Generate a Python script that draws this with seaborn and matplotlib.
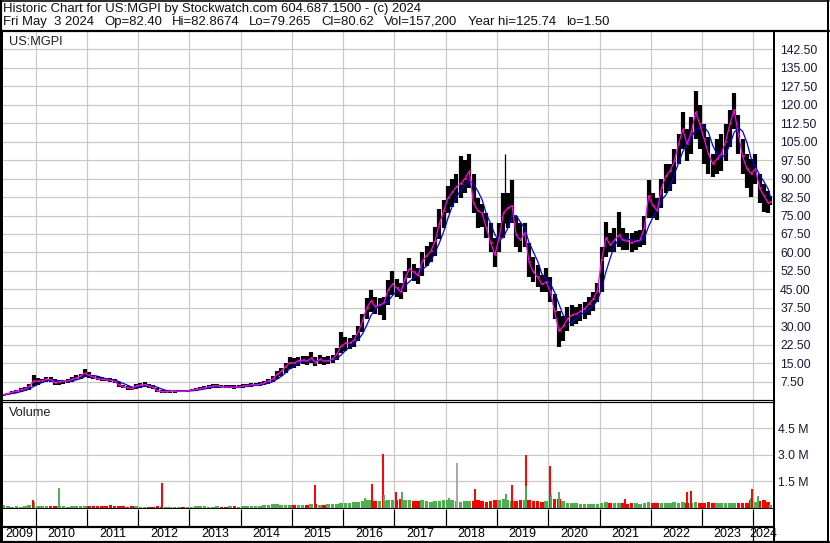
import numpy as np
import pandas as pd
import matplotlib
matplotlib.use("Agg")
import matplotlib.pyplot as plt
from matplotlib.lines import Line2D
import seaborn as sns

# monthly bars, May 2009 .. May 2024 (one row per year)
price_hi = [2.6, 3.0, 3.6, 4.2, 4.8, 5.2, 6.5, 10.2,
            9.0, 8.5, 9.2, 9.4, 8.6, 8.3, 8.3, 8.6, 9.3, 10.0, 10.6, 12.4,
            11.4, 10.3, 9.6, 9.4, 9.0, 8.9, 8.6, 7.4, 6.2, 5.8, 5.4, 6.6,
            7.0, 7.2, 6.6, 6.0, 4.8, 4.0, 3.9, 4.0, 4.1, 4.1, 4.0, 4.2,
            4.6, 4.9, 5.2, 5.6, 6.1, 6.4, 6.6, 6.3, 6.0, 6.1, 6.0, 6.0,
            6.4, 6.6, 7.0, 7.0, 7.2, 7.8, 8.6, 9.8, 11.6, 13.0, 15.2, 17.6,
            17.0, 17.6, 18.0, 17.8, 19.6, 17.4, 18.2, 17.6, 17.8, 18.4, 21.0, 27.6,
            25.8, 25.4, 26.4, 30.0, 34.8, 41.4, 44.6, 42.0, 41.4, 42.0, 48.6, 52.6,
            49.0, 47.4, 52.6, 57.6, 55.4, 53.6, 60.0, 62.6, 64.4, 70.2, 77.6, 81.2,
            87.0, 90.0, 92.0, 99.0, 97.5, 100.0, 92.0, 82.0, 79.6, 76.0, 72.0, 66.0,
            72.0, 84.0, 84.0, 89.4, 75.0, 72.0, 72.0, 64.0, 58.0, 55.0, 51.0, 53.5,
            50.0, 43.0, 36.0, 34.0, 38.0, 38.5, 38.0, 39.0, 40.0, 42.0, 44.0, 47.5,
            62.0, 72.4, 68.0, 70.0, 76.4, 70.0, 68.0, 68.0, 68.5, 69.0, 75.0, 89.4,
            84.0, 82.0, 90.0, 96.0, 96.0, 102.0, 108.0, 116.9, 110.0, 115.0, 125.74, 120.0,
            112.0, 107.0, 100.0, 106.0, 108.0, 112.0, 118.0, 124.9, 116.0, 106.0, 100.0, 98.0,
            100.0, 92.0, 88.0, 85.0, 82.87]
price_lo = [1.5, 1.9, 2.4, 2.9, 3.3, 3.6, 4.0, 5.5,
            6.3, 6.8, 7.3, 7.5, 6.0, 6.2, 6.6, 6.8, 7.4, 8.0, 8.5, 9.4,
            9.0, 8.5, 8.0, 7.8, 7.6, 7.4, 7.0, 5.4, 4.8, 4.2, 3.9, 4.6,
            5.0, 5.2, 5.0, 4.4, 3.2, 2.9, 2.9, 3.0, 3.0, 3.1, 3.1, 3.2,
            3.5, 3.8, 4.0, 4.3, 4.5, 4.8, 4.9, 4.8, 4.7, 4.7, 4.6, 4.8,
            5.0, 5.2, 5.4, 5.5, 5.6, 6.0, 6.6, 7.4, 8.4, 9.6, 11.0, 12.8,
            13.0, 14.0, 14.6, 14.4, 15.0, 13.8, 14.6, 14.4, 14.8, 15.0, 16.2, 19.0,
            19.8, 20.6, 21.6, 24.0, 27.6, 33.0, 35.6, 35.0, 34.4, 32.4, 38.8, 42.6,
            42.0, 41.0, 44.0, 49.4, 48.4, 47.0, 50.6, 54.6, 56.0, 58.6, 65.6, 70.0,
            76.0, 78.6, 80.0, 82.0, 84.0, 86.0, 76.0, 70.0, 70.5, 66.0, 60.0, 54.2,
            60.0, 66.0, 70.0, 72.0, 62.0, 60.0, 62.0, 50.0, 48.0, 46.0, 44.0, 44.0,
            40.0, 33.0, 21.7, 24.0, 28.0, 30.0, 31.0, 32.0, 33.0, 34.5, 36.0, 40.0,
            44.0, 58.0, 60.0, 60.0, 62.0, 60.8, 61.0, 60.0, 61.0, 62.0, 63.0, 74.0,
            74.0, 73.0, 78.0, 84.0, 85.0, 88.0, 96.0, 102.0, 97.0, 100.0, 106.0, 102.0,
            96.0, 92.0, 90.5, 92.0, 93.0, 97.0, 103.0, 110.0, 100.0, 92.0, 86.0, 82.4,
            88.0, 80.0, 76.4, 76.0, 79.27]
price_cl = [2.2, 2.6, 3.2, 3.6, 4.2, 4.5, 5.6, 7.6,
            7.6, 7.8, 8.4, 8.3, 7.0, 7.4, 7.6, 7.7, 8.4, 9.0, 9.8, 10.8,
            10.0, 9.2, 8.6, 8.4, 8.3, 8.0, 7.6, 6.0, 5.4, 5.0, 4.6, 5.6,
            6.0, 6.3, 5.6, 5.2, 3.7, 3.4, 3.4, 3.5, 3.5, 3.6, 3.5, 3.7,
            4.1, 4.3, 4.6, 5.0, 5.4, 5.6, 5.8, 5.4, 5.3, 5.3, 5.2, 5.4,
            5.6, 5.8, 6.2, 6.2, 6.4, 7.0, 7.8, 8.6, 10.4, 11.6, 13.6, 15.2,
            15.0, 16.0, 16.2, 15.8, 17.0, 15.2, 16.6, 15.8, 16.0, 16.6, 18.6, 22.0,
            23.0, 23.2, 24.2, 27.8, 32.0, 37.4, 40.2, 38.0, 38.6, 39.4, 44.6, 47.0,
            45.6, 43.8, 49.6, 53.4, 52.0, 50.6, 56.4, 58.6, 60.4, 64.6, 71.6, 76.8,
            82.0, 84.4, 86.7, 88.0, 90.0, 93.0, 80.0, 77.0, 76.0, 70.0, 64.0, 59.0,
            66.0, 76.0, 78.0, 79.0, 67.0, 65.0, 68.0, 56.0, 52.0, 50.0, 47.0, 48.0,
            44.0, 36.0, 28.0, 30.0, 33.0, 34.5, 35.0, 36.0, 37.0, 39.0, 41.0, 44.5,
            57.0, 66.0, 63.0, 65.0, 67.0, 65.0, 64.5, 64.0, 64.5, 65.0, 70.0, 83.0,
            79.0, 77.0, 86.0, 91.0, 93.0, 97.0, 104.0, 110.0, 104.0, 109.0, 117.0, 112.0,
            106.0, 100.0, 96.0, 98.0, 100.0, 105.0, 112.0, 118.0, 108.0, 99.0, 94.0, 92.0,
            94.0, 86.0, 83.0, 80.0, 80.62]
# typical daily volume each month, millions
volume_m = [0.12, 0.06, 0.05, 0.06, 0.05, 0.07, 0.15, 0.30,
            0.10, 0.07, 0.06, 0.07, 0.08, 0.10, 0.06, 0.05, 0.08, 0.07, 0.06, 0.09,
            0.08, 0.10, 0.07, 0.06, 0.08, 0.12, 0.08, 0.10, 0.06, 0.05, 0.07, 0.06,
            0.05, 0.05, 0.04, 0.05, 0.06, 0.05, 0.04, 0.04, 0.05, 0.04, 0.05, 0.05,
            0.05, 0.06, 0.10, 0.06, 0.05, 0.05, 0.06, 0.05, 0.05, 0.07, 0.06, 0.05,
            0.06, 0.07, 0.06, 0.08, 0.10, 0.12, 0.15, 0.22, 0.18, 0.16, 0.15, 0.15,
            0.14, 0.13, 0.15, 0.16, 0.18, 0.20, 0.17, 0.16, 0.18, 0.22, 0.22, 0.25,
            0.24, 0.26, 0.30, 0.32, 0.36, 0.45, 0.40, 0.38, 0.35, 0.38, 0.40, 0.45,
            0.45, 0.50, 0.42, 0.45, 0.38, 0.35, 0.40, 0.35, 0.32, 0.35, 0.38, 0.40,
            0.42, 0.40, 0.35, 0.32, 0.35, 0.38, 0.35, 0.40, 0.35, 0.32, 0.35, 0.40,
            0.40, 0.48, 0.40, 0.35, 0.35, 0.40, 0.42, 0.40, 0.35, 0.35, 0.30, 0.35,
            0.40, 0.48, 0.50, 0.38, 0.28, 0.26, 0.25, 0.22, 0.22, 0.20, 0.22, 0.22,
            0.25, 0.32, 0.28, 0.25, 0.28, 0.25, 0.22, 0.25, 0.26, 0.22, 0.25, 0.32,
            0.28, 0.25, 0.28, 0.26, 0.28, 0.30, 0.26, 0.32, 0.28, 0.28, 0.30, 0.26,
            0.28, 0.32, 0.28, 0.24, 0.26, 0.28, 0.28, 0.26, 0.24, 0.26, 0.28, 0.40,
            0.32, 0.38, 0.42, 0.32, 0.16]

# single-day spikes
spike_t = [2019.15]
spike_lo = [72.0]
spike_hi = [100.0]
vol_spike_t = [2009.94, 2010.45, 2012.46, 2015.45, 2016.42, 2016.57, 2016.78, 2016.80,
               2017.02, 2017.14, 2018.07, 2018.21, 2018.57, 2019.18, 2019.30, 2019.56,
               2019.56, 2020.03, 2020.05, 2020.20, 2021.50, 2022.71, 2022.78, 2023.95,
               2023.97, 2024.10]
vol_spike_v = [0.40, 1.11, 1.38, 1.29, 0.55, 1.34, 3.06, 0.72,
               0.87, 0.87, 0.56, 2.54, 1.04, 0.75, 1.26, 2.96,
               1.21, 2.38, 0.71, 0.87, 0.49, 0.87, 0.92, 0.52,
               1.04, 0.66]
vol_spike_c = ["r", "g", "r", "r", "g", "r", "r", "g",
               "r", "g", "g", "k", "r", "g", "r", "r",
               "g", "r", "g", "g", "r", "r", "r", "g",
               "r", "g"]

price_ticks = np.arange(7.5, 143, 7.5)
vol_ticks = [1.5, 3.0, 4.5]
years = list(range(2010, 2025))
quote_fields = ["Fri May  3 2024", "Op=82.40", "Hi=82.8674", "Lo=79.265", "Cl=80.62",
                "Vol=157,200", "Year hi=125.74", "lo=1.50"]
quote_x = [3, 104, 172, 249, 321, 384, 468, 566]

sns.set_style("white")
plt.rcParams['font.family'] = ['Liberation Sans', 'DejaVu Sans']

months = pd.date_range("2009-05-01", "2024-05-01", freq="MS")
t = np.array(months.year + (months.month - 0.5) / 12, dtype=float)
t[-1] = 2024.335
df = pd.DataFrame({"t": t, "hi": price_hi, "lo": price_lo, "cl": price_cl, "vol": volume_m})
df["ma_fast"] = df["cl"]
df["ma_slow"] = df["cl"].rolling(4, min_periods=1).mean()
df["up"] = df["cl"].diff().fillna(0) >= 0

W, H = 830, 543
XMIN, XMAX = 2009.343, 2024.404
PX = 0.72  # one pixel in points
GRID = "#c8c8c8"
LAB = "#181838"
GREEN = "#4caf50"
cmap = {"r": "#ff0000", "g": GREEN, "k": "#a8a8a8"}

fig = plt.figure(figsize=(8.3, 5.43), dpi=100)


def box(x0, y0, x1, y1):
    return [x0 / W, 1 - y1 / H, (x1 - x0) / W, (y1 - y0) / H]


ax = fig.add_axes(box(2, 31, 774, 400))
axv = fig.add_axes(box(2, 402, 774, 509))
axd = fig.add_axes(box(2, 509, 774, 541))

# price panel
ax.set_xlim(XMIN, XMAX)
ax.set_ylim(0, 150)
ax.set_xticks(years)
ax.set_yticks(price_ticks)
ax.set_yticklabels([f"{v:.2f}" for v in price_ticks])
ax.grid(True, color=GRID, lw=PX * 1.2)
ax.set_axisbelow(True)
ax.yaxis.tick_right()
ax.tick_params(axis="x", length=0, labelbottom=False)
ax.tick_params(axis="y", length=0, pad=4.5, labelsize=8.8, labelcolor=LAB)

ax.vlines(df["t"], df["lo"], df["hi"], color="black", lw=3.0)
ax.vlines(spike_t, spike_lo, spike_hi, color="black", lw=0.9)
ax.plot(df["t"] + 0.018, df["cl"], ls="none", marker="s", ms=2.0, mew=0, color="red")
sns.lineplot(data=df, x="t", y="ma_slow", color="#0000ff", lw=0.9, ax=ax)
sns.lineplot(data=df, x="t", y="ma_fast", color="#ff00ff", lw=0.9, ax=ax)
ax.set_xlabel("")
ax.set_ylabel("")
ax.text(7 / 772, 1 - 11 / 369, "US:MGPI", transform=ax.transAxes, fontsize=9.2,
        va="center", ha="left", color="#202020")

# volume panel
axv.set_xlim(XMIN, XMAX)
axv.set_ylim(-0.085, 6.0)
axv.set_xticks(years)
axv.set_yticks(vol_ticks)
axv.set_yticklabels([f"{v:.1f} M" for v in vol_ticks])
axv.grid(True, color=GRID, lw=PX * 1.2)
axv.set_axisbelow(True)
axv.yaxis.tick_right()
axv.tick_params(axis="x", length=0, labelbottom=False)
axv.tick_params(axis="y", length=0, pad=3, labelsize=8.8, labelcolor=LAB)
axv.bar(df["t"], df["vol"], width=0.07, linewidth=0,
        color=[GREEN if u else "#ff0000" for u in df["up"]])
axv.vlines(vol_spike_t, 0, vol_spike_v, colors=[cmap[c] for c in vol_spike_c], lw=1.4)
axv.text(7 / 772, 1 - 11 / 107, "Volume", transform=axv.transAxes, fontsize=9.2,
         va="center", ha="left", color="#202020")

# date strip
axd.set_xlim(XMIN, XMAX)
axd.set_ylim(0, 1)
axd.set_xticks([])
axd.set_yticks([])
mid = 14 / 32
axd.axhline(mid, color="black", lw=PX * 2.2)
axd.vlines(years, mid, 1, color="black", lw=PX * 1.2)
axd.vlines([2010, 2024], 0, mid, color="black", lw=PX * 1.2)
edges = [XMIN] + years + [XMAX]
for a, b, lab in zip(edges[:-1], edges[1:], range(2009, 2025)):
    axd.text((a + b) / 2, mid / 2, str(lab), ha="center", va="center",
             fontsize=9, color="black")

for a in (ax, axv, axd):
    for s in a.spines.values():
        s.set_color("black")
        s.set_linewidth(PX * 2)
ax.spines["bottom"].set_linewidth(PX * 1.2)
axv.spines["top"].set_linewidth(PX * 1.2)
axd.spines["top"].set_visible(False)
axd.spines["bottom"].set_visible(False)

# outer frame and header
def fline(x0, y0, x1, y1, w):
    fig.add_artist(Line2D([x0 / W, x1 / W], [1 - y0 / H, 1 - y1 / H],
                          color="black", lw=PX * w, transform=fig.transFigure))


fline(0, 0.8, 829, 0.8, 1.6)
fline(0, 31, 829, 31, 2.2)
fline(1, 0, 1, 543, 2.2)
fline(828, 0, 828, 543, 2.0)
fline(0, 541.8, 829, 541.8, 2.2)

fig.text(3 / W, 1 - 9 / H, "Historic Chart for US:MGPI by Stockwatch.com 604.687.1500 - (c) 2024",
         fontsize=9.45, va="center", ha="left", color="#101010")
for txt, xp in zip(quote_fields, quote_x):
    fig.text(xp / W, 1 - 22 / H, txt, fontsize=9.45, va="center", ha="left", color="#101010")

fig.savefig("out.png", dpi=100, facecolor="white")
